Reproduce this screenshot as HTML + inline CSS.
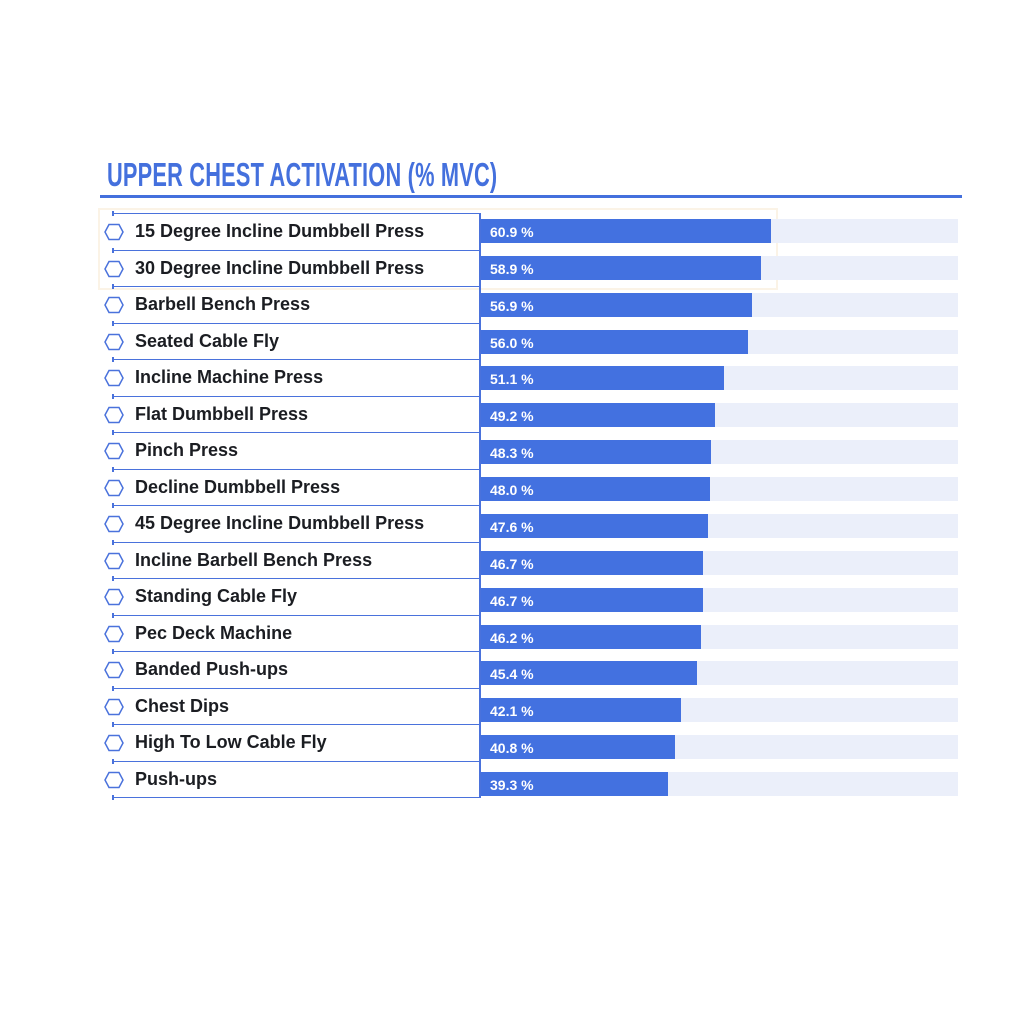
<!DOCTYPE html>
<html><head><meta charset="utf-8"><style>
body{margin:0;background:#fff;width:1024px;height:1024px;position:relative;overflow:hidden;font-family:"Liberation Sans",sans-serif}
.t{position:absolute;left:107px;top:156px;font-family:"Liberation Sans",sans-serif;font-weight:bold;font-size:33px;color:#4470dd;letter-spacing:0.3px;transform:scaleX(0.66);transform-origin:left;white-space:nowrap}
.ul{position:absolute;left:100px;top:195px;width:862px;height:3px;background:#4470dd}
.lb{position:absolute;left:135px;font-weight:bold;font-size:18px;color:#1b1d22;line-height:20px}
.sep{position:absolute;left:113px;width:367px;height:0;border-top:1.5px solid #4a72dc}
.tick{position:absolute;left:112px;width:1.5px;height:5px;background:#4a72dc}
.bg{position:absolute;left:481px;width:477px;height:24px;background:#ebeffa}
.bar{position:absolute;left:481px;height:24px;background:#4371e0;color:#fff;font-weight:bold;font-size:14px;line-height:26px;padding-left:9px;box-sizing:border-box;white-space:nowrap}
svg.h{position:absolute;left:104px;width:20px;height:18px}
</style></head><body>
<div class="t">UPPER CHEST ACTIVATION (% MVC)</div>
<div class="ul"></div>
<div style="position:absolute;left:98px;top:208px;width:680px;height:82px;border:2px solid #fbf3e6;box-sizing:border-box"></div>
<div style="position:absolute;left:479px;top:213px;width:1.5px;height:585px;background:#4a72dc"></div>
<div id="c"></div>
<script>
var d=[["15 Degree Incline Dumbbell Press",60.9],["30 Degree Incline Dumbbell Press",58.9],["Barbell Bench Press",56.9],["Seated Cable Fly",56.0],["Incline Machine Press",51.1],["Flat Dumbbell Press",49.2],["Pinch Press",48.3],["Decline Dumbbell Press",48.0],["45 Degree Incline Dumbbell Press",47.6],["Incline Barbell Bench Press",46.7],["Standing Cable Fly",46.7],["Pec Deck Machine",46.2],["Banded Push-ups",45.4],["Chest Dips",42.1],["High To Low Cable Fly",40.8],["Push-ups",39.3]];
var h='';
for(var i=0;i<=16;i++){var y=213+i*36.5;h+='<div class="sep" style="top:'+y+'px"></div><div class="tick" style="top:'+(y-2)+'px"></div>';}
d.forEach(function(r,i){var c=232+i*36.5;var by=219+i*36.87;
h+='<svg class="h" style="top:'+(c-9)+'px" viewBox="0 0 20 18"><polygon points="5,1.5 15,1.5 19,9 15,16.5 5,16.5 1,9" fill="none" stroke="#4a72dc" stroke-width="1.5"/></svg>';
h+='<div class="lb" style="top:'+(c-11)+'px">'+r[0]+'</div>';
h+='<div class="bg" style="top:'+by+'px"></div><div class="bar" style="top:'+by+'px;width:'+(r[1]*4.76).toFixed(1)+'px">'+r[1].toFixed(1)+' %</div>';});
document.getElementById('c').innerHTML=h;
</script>
</body></html>
